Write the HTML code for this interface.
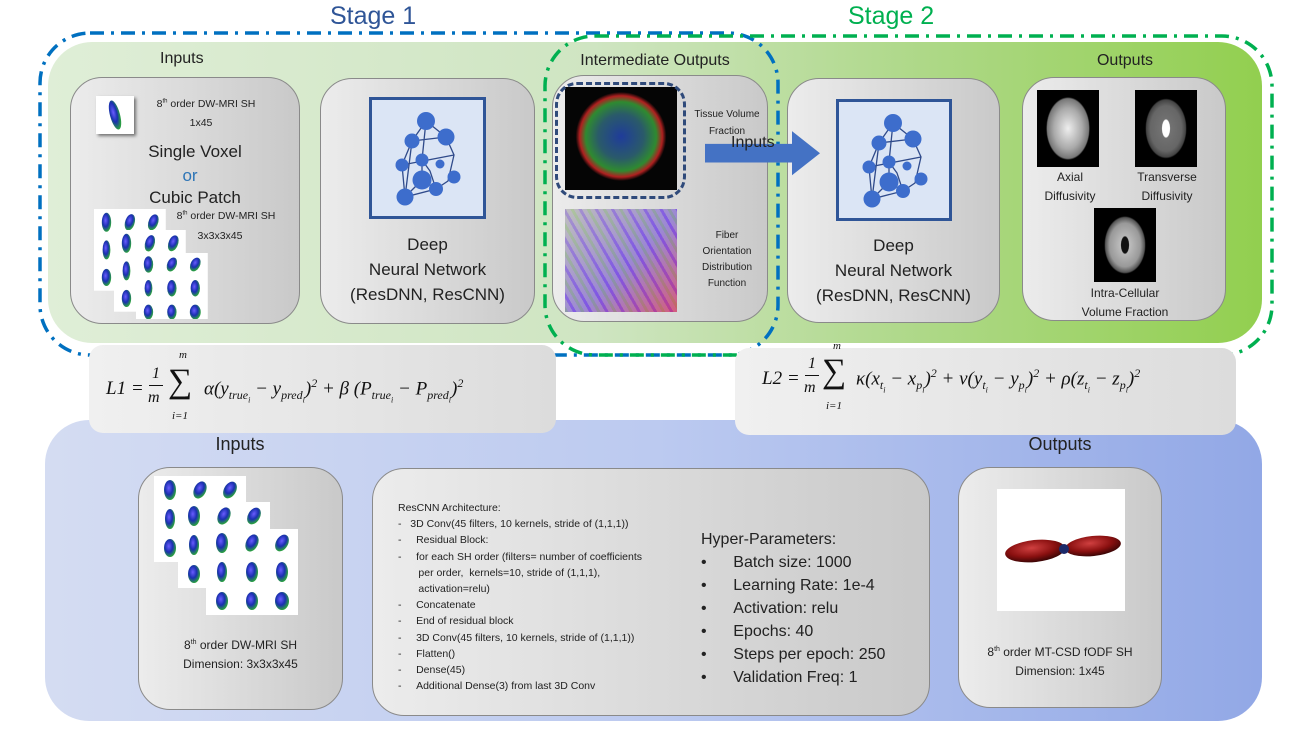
<!DOCTYPE html>
<html><head><meta charset="utf-8">
<style>
*{margin:0;padding:0;box-sizing:border-box}
body{width:1300px;height:733px;background:#fff;position:relative;overflow:hidden;font-family:"Liberation Sans",sans-serif;color:#222}
.a{position:absolute}
.box{position:absolute;border:1px solid #8a8a8a;border-radius:32px;background:linear-gradient(90deg,#ececec,#c9c9c9)}
.t{position:absolute;text-align:center;white-space:nowrap}
.m{font-family:"Liberation Serif",serif;font-style:italic;font-size:19px;color:#111}
sub{font-size:12px}
.arch{position:absolute;left:398px;top:500px;font-size:10.5px;line-height:16.2px;color:#222}
.arch div{white-space:nowrap}
.hp{position:absolute;left:701px;top:528px;font-size:16px;line-height:23px;color:#222}
</style></head><body>
<svg width="0" height="0" style="position:absolute">
<defs>
<radialGradient id="bl" cx="40%" cy="40%" r="60%"><stop offset="0" stop-color="#6a5cff"/><stop offset=".55" stop-color="#1a2fb0"/><stop offset="1" stop-color="#2aa040"/></radialGradient>
<g id="nn">
<g stroke="#2f4a8a" stroke-width="1.3" fill="none">
<path d="M57 24L43 44L33 68L36 100L67 92L61 74L53 63L57 24L77 40L85 58L79 84L67 92M43 44L77 40M33 68L85 58M53 63L61 74M36 100L53 83L67 92M53 63L53 83M43 44L36 100"/>
</g>
<g fill="#3d6dcc">
<circle cx="57" cy="24" r="9"/><circle cx="77" cy="40" r="8.5"/><circle cx="43" cy="44" r="7.5"/><circle cx="53" cy="63" r="6.5"/><circle cx="33" cy="68" r="6.5"/><circle cx="71" cy="67" r="4.5"/><circle cx="53" cy="83" r="9.5"/><circle cx="85" cy="80" r="6.5"/><circle cx="67" cy="92" r="7"/><circle cx="36" cy="100" r="8.5"/>
</g></g>
<g id="sh"><rect width="92" height="86" fill="#fff"/>
<g fill="url(#bl)"><ellipse cx="16" cy="14" rx="6" ry="10"/><ellipse cx="46" cy="14" rx="6" ry="9" transform="rotate(25 46 14)"/><ellipse cx="76" cy="14" rx="6" ry="9" transform="rotate(30 76 14)"/><ellipse cx="16" cy="43" rx="5" ry="10"/><ellipse cx="46" cy="43" rx="6" ry="10"/><ellipse cx="76" cy="43" rx="6" ry="10"/><ellipse cx="16" cy="72" rx="6" ry="9"/><ellipse cx="46" cy="72" rx="6" ry="9"/><ellipse cx="76" cy="72" rx="7" ry="9"/></g></g>
</defs></svg>

<div class="t" style="left:330px;top:2px;font-size:25px;color:#2f5597">Stage 1</div>
<div class="t" style="left:848px;top:2px;font-size:25px;color:#00b050">Stage 2</div>

<div class="a" style="left:48px;top:42px;width:1214px;height:301px;border-radius:44px;background:linear-gradient(90deg,#dfeed7 0%,#cfe5c2 45%,#b0d98c 70%,#92cf4f 100%)"></div>

<svg class="a" style="left:0;top:0" width="1300" height="733">
<rect x="40" y="33" width="738" height="322" rx="50" fill="none" stroke="#0070c0" stroke-width="3.5" stroke-dasharray="14 7 3 7"/>
<rect x="545" y="36" width="727" height="319" rx="50" fill="none" stroke="#00b050" stroke-width="3.5" stroke-dasharray="14 7 3 7"/>
</svg>

<div class="t" style="left:160px;top:50px;font-size:16px">Inputs</div>
<div class="box" style="left:70px;top:77px;width:230px;height:247px"></div>
<div class="a" style="left:96px;top:96px;width:38px;height:38px;background:#fff;box-shadow:2px 2px 3px rgba(0,0,0,.5)"><svg width="38" height="38"><ellipse cx="19" cy="19" rx="5" ry="15" fill="url(#bl)" transform="rotate(-15 19 19)"/></svg></div>
<div class="t" style="left:146px;top:98px;font-size:10.5px;width:120px">8<sup style="font-size:6px">th</sup> order DW-MRI SH</div>
<div class="t" style="left:146px;top:117px;font-size:10.5px;width:110px">1x45</div>
<div class="t" style="left:135px;top:142px;font-size:17px;width:120px">Single Voxel</div>
<div class="t" style="left:135px;top:166px;font-size:17px;width:110px;color:#2e75b6">or</div>
<div class="t" style="left:135px;top:188px;font-size:17px;width:120px">Cubic Patch</div>
<div class="t" style="left:166px;top:210px;font-size:10.5px;width:120px">8<sup style="font-size:6px">th</sup> order DW-MRI SH</div>
<div class="t" style="left:170px;top:230px;font-size:10.5px;width:100px">3x3x3x45</div>
<svg class="a" style="left:94px;top:209px" width="120" height="110">
<use href="#sh" transform="scale(0.78,0.95)"/>
<use href="#sh" transform="translate(20,21) scale(0.78,0.95)"/>
<use href="#sh" transform="translate(42,44) scale(0.78,0.82)"/>
</svg>

<div class="box" style="left:320px;top:78px;width:215px;height:246px"></div>
<div class="a" style="left:369px;top:97px;width:117px;height:122px;border:3px solid #2f5597;background:#dbe5f5"></div>
<svg class="a" style="left:369px;top:97px" width="117" height="122"><use href="#nn"/></svg>
<div class="t" style="left:320px;top:232px;width:215px;font-size:17px;line-height:25px">Deep<br>Neural Network<br>(ResDNN, ResCNN)</div>

<div class="t" style="left:555px;top:52px;width:200px;font-size:16px">Intermediate Outputs</div>
<div class="box" style="left:552px;top:75px;width:216px;height:247px"></div>
<div class="a" style="left:565px;top:87px;width:112px;height:103px;background:radial-gradient(ellipse 45% 48% at 50% 48%,#1f3c9a 0%,#2a5a6a 45%,#2f8a30 70%,#b02020 82%,#050505 90%)"></div>
<div class="a" style="left:555px;top:82px;width:131px;height:117px;border:3px dashed #2f4a7a;border-radius:22px"></div>
<div class="t" style="left:682px;top:106px;font-size:10px;width:90px;line-height:17px">Tissue Volume<br>Fraction</div>
<div class="a" style="left:565px;top:209px;width:112px;height:103px;background:repeating-linear-gradient(60deg,#9cd66e 0 3px,#c0c0c0 3px 7px,#8860e0 7px 10px,#c0c0c0 10px 14px),linear-gradient(135deg,#bbb,#5a70e8 60%,#d03060)"></div>
<div class="a" style="left:565px;top:209px;width:112px;height:103px;background:linear-gradient(135deg,rgba(190,190,190,.6) 0%,rgba(120,80,230,.5) 55%,rgba(220,40,90,.65) 100%)"></div>
<div class="t" style="left:682px;top:228px;font-size:10px;width:90px;line-height:16px">Fiber<br>Orientation<br>Distribution<br>Function</div>

<div class="box" style="left:787px;top:78px;width:213px;height:245px"></div>
<div class="a" style="left:836px;top:99px;width:116px;height:122px;border:3px solid #2f5597;background:#dbe5f5"></div>
<svg class="a" style="left:836px;top:99px" width="116" height="122"><use href="#nn"/></svg>
<div class="t" style="left:787px;top:233px;width:213px;font-size:17px;line-height:25px">Deep<br>Neural Network<br>(ResDNN, ResCNN)</div>

<svg class="a" style="left:700px;top:130px" width="130" height="60">
<path d="M5 21H92V6L120 32L92 58V43H5Z" fill="#4472c4" transform="translate(0,-4) scale(1,0.85)"/></svg>
<div class="t" style="left:731px;top:134px;font-size:16px">Inputs</div>

<div class="t" style="left:1075px;top:52px;width:100px;font-size:16px">Outputs</div>
<div class="box" style="left:1022px;top:77px;width:204px;height:244px"></div>
<div class="a" style="left:1037px;top:90px;width:62px;height:77px;background:radial-gradient(ellipse 38% 44% at 50% 50%,#eee 0%,#aaa 60%,#777 88%,#000 93%)"></div>
<div class="a" style="left:1135px;top:90px;width:62px;height:77px;background:radial-gradient(ellipse 10% 18% at 50% 50%,#fff 0%,#fff 60%,transparent 70%),radial-gradient(ellipse 36% 42% at 50% 50%,#777 0%,#666 70%,#444 88%,#000 93%)"></div>
<div class="t" style="left:1030px;top:168px;width:80px;font-size:12px;line-height:19px">Axial<br>Diffusivity</div>
<div class="t" style="left:1125px;top:168px;width:84px;font-size:12px;line-height:19px">Transverse<br>Diffusivity</div>
<div class="a" style="left:1094px;top:208px;width:62px;height:74px;background:radial-gradient(ellipse 10% 18% at 50% 50%,#111 0%,#111 60%,transparent 70%),radial-gradient(ellipse 36% 42% at 50% 50%,#ccc 0%,#999 70%,#555 88%,#000 93%)"></div>
<div class="t" style="left:1065px;top:284px;width:120px;font-size:12px;line-height:19px">Intra-Cellular<br>Volume Fraction</div>

<div class="a" style="left:45px;top:420px;width:1217px;height:301px;border-radius:44px;background:linear-gradient(90deg,#d4dcf2,#bccaf0 50%,#92a8e6)"></div>

<div class="a" style="left:89px;top:345px;width:467px;height:88px;border-radius:14px;background:linear-gradient(90deg,#f0f0f0,#dcdcdc)"></div>
<div class="a m" style="left:106px;top:355px;width:460px;height:70px">
 <span class="a" style="left:0;top:23px">L1 =</span>
 <span class="a" style="left:46px;top:10px;font-size:16px">1</span>
 <span class="a" style="left:43px;top:30px;width:14px;border-top:1px solid #111"></span>
 <span class="a" style="left:42px;top:34px;font-size:16px">m</span>
 <span class="a" style="left:73px;top:-6px;font-size:11px">m</span>
 <span class="a" style="left:62px;top:8px;font-size:34px;font-style:normal">∑</span>
 <span class="a" style="left:66px;top:55px;font-size:11px">i=1</span>
 <span class="a" style="left:98px;top:21px;white-space:nowrap">α(y<sub>true<sub style="font-size:8px">i</sub></sub> − y<sub>pred<sub style="font-size:8px">i</sub></sub>)<sup style="font-size:12px">2</sup> + β (P<sub>true<sub style="font-size:8px">i</sub></sub> − P<sub>pred<sub style="font-size:8px">i</sub></sub>)<sup style="font-size:12px">2</sup></span>
</div>

<div class="a" style="left:735px;top:348px;width:501px;height:87px;border-radius:14px;background:linear-gradient(90deg,#f0f0f0,#dcdcdc)"></div>
<div class="a m" style="left:762px;top:350px;width:470px;height:70px">
 <span class="a" style="left:0;top:18px">L2 =</span>
 <span class="a" style="left:46px;top:5px;font-size:16px">1</span>
 <span class="a" style="left:43px;top:25px;width:14px;border-top:1px solid #111"></span>
 <span class="a" style="left:42px;top:29px;font-size:16px">m</span>
 <span class="a" style="left:71px;top:-10px;font-size:11px">m</span>
 <span class="a" style="left:60px;top:3px;font-size:34px;font-style:normal">∑</span>
 <span class="a" style="left:64px;top:50px;font-size:11px">i=1</span>
 <span class="a" style="left:94px;top:16px;white-space:nowrap">κ(x<sub>t<sub style="font-size:8px">i</sub></sub> − x<sub>p<sub style="font-size:8px">i</sub></sub>)<sup style="font-size:12px">2</sup> + ν(y<sub>t<sub style="font-size:8px">i</sub></sub> − y<sub>p<sub style="font-size:8px">i</sub></sub>)<sup style="font-size:12px">2</sup> + ρ(z<sub>t<sub style="font-size:8px">i</sub></sub> − z<sub>p<sub style="font-size:8px">i</sub></sub>)<sup style="font-size:12px">2</sup></span>
</div>

<div class="t" style="left:190px;top:434px;width:100px;font-size:18px">Inputs</div>
<div class="box" style="left:138px;top:467px;width:205px;height:243px"></div>
<svg class="a" style="left:154px;top:476px" width="150" height="142">
<use href="#sh"/>
<use href="#sh" transform="translate(24,26)"/>
<use href="#sh" transform="translate(52,53)"/>
</svg>
<div class="t" style="left:138px;top:633px;width:205px;font-size:12px;line-height:19px">8<sup style="font-size:7px">th</sup> order DW-MRI SH<br>Dimension: 3x3x3x45</div>

<div class="box" style="left:372px;top:468px;width:558px;height:248px"></div>
<div class="arch">
<div>ResCNN Architecture:</div>
<div>-&nbsp;&nbsp;&nbsp;3D Conv(45 filters, 10 kernels, stride of (1,1,1))</div>
<div>-&nbsp;&nbsp;&nbsp;&nbsp;&nbsp;Residual Block:</div>
<div>-&nbsp;&nbsp;&nbsp;&nbsp;&nbsp;for each SH order (filters= number of coefficients</div>
<div>&nbsp;&nbsp;&nbsp;&nbsp;&nbsp;&nbsp;&nbsp;per order,&nbsp; kernels=10, stride of (1,1,1),</div>
<div>&nbsp;&nbsp;&nbsp;&nbsp;&nbsp;&nbsp;&nbsp;activation=relu)</div>
<div>-&nbsp;&nbsp;&nbsp;&nbsp;&nbsp;Concatenate</div>
<div>-&nbsp;&nbsp;&nbsp;&nbsp;&nbsp;End of residual block</div>
<div>-&nbsp;&nbsp;&nbsp;&nbsp;&nbsp;3D Conv(45 filters, 10 kernels, stride of (1,1,1))</div>
<div>-&nbsp;&nbsp;&nbsp;&nbsp;&nbsp;Flatten()</div>
<div>-&nbsp;&nbsp;&nbsp;&nbsp;&nbsp;Dense(45)</div>
<div>-&nbsp;&nbsp;&nbsp;&nbsp;&nbsp;Additional Dense(3) from last 3D Conv</div>
</div>
<div class="hp">
<div>Hyper-Parameters:</div>
<div>•&nbsp;&nbsp;&nbsp;&nbsp;&nbsp;&nbsp;Batch size: 1000</div>
<div>•&nbsp;&nbsp;&nbsp;&nbsp;&nbsp;&nbsp;Learning Rate: 1e-4</div>
<div>•&nbsp;&nbsp;&nbsp;&nbsp;&nbsp;&nbsp;Activation: relu</div>
<div>•&nbsp;&nbsp;&nbsp;&nbsp;&nbsp;&nbsp;Epochs: 40</div>
<div>•&nbsp;&nbsp;&nbsp;&nbsp;&nbsp;&nbsp;Steps per epoch: 250</div>
<div>•&nbsp;&nbsp;&nbsp;&nbsp;&nbsp;&nbsp;Validation Freq: 1</div>
</div>

<div class="t" style="left:1010px;top:434px;width:100px;font-size:18px">Outputs</div>
<div class="box" style="left:958px;top:467px;width:204px;height:241px"></div>
<div class="a" style="left:997px;top:489px;width:128px;height:122px;background:#fff"></div>
<svg class="a" style="left:997px;top:489px" width="128" height="122">
<defs><radialGradient id="lobe" cx="45%" cy="35%" r="65%"><stop offset="0" stop-color="#d04040"/><stop offset=".6" stop-color="#8a1010"/><stop offset="1" stop-color="#3a0505"/></radialGradient></defs>
<ellipse cx="38" cy="62" rx="30" ry="11" fill="url(#lobe)" transform="rotate(-6 38 62)"/>
<ellipse cx="96" cy="57" rx="28" ry="10" fill="url(#lobe)" transform="rotate(-6 96 57)"/>
<circle cx="67" cy="60" r="5" fill="#1c2a6a"/>
</svg>
<div class="t" style="left:958px;top:640px;width:204px;font-size:12px;line-height:19px">8<sup style="font-size:7px">th</sup> order MT-CSD fODF SH<br>Dimension: 1x45</div>

</body></html>
